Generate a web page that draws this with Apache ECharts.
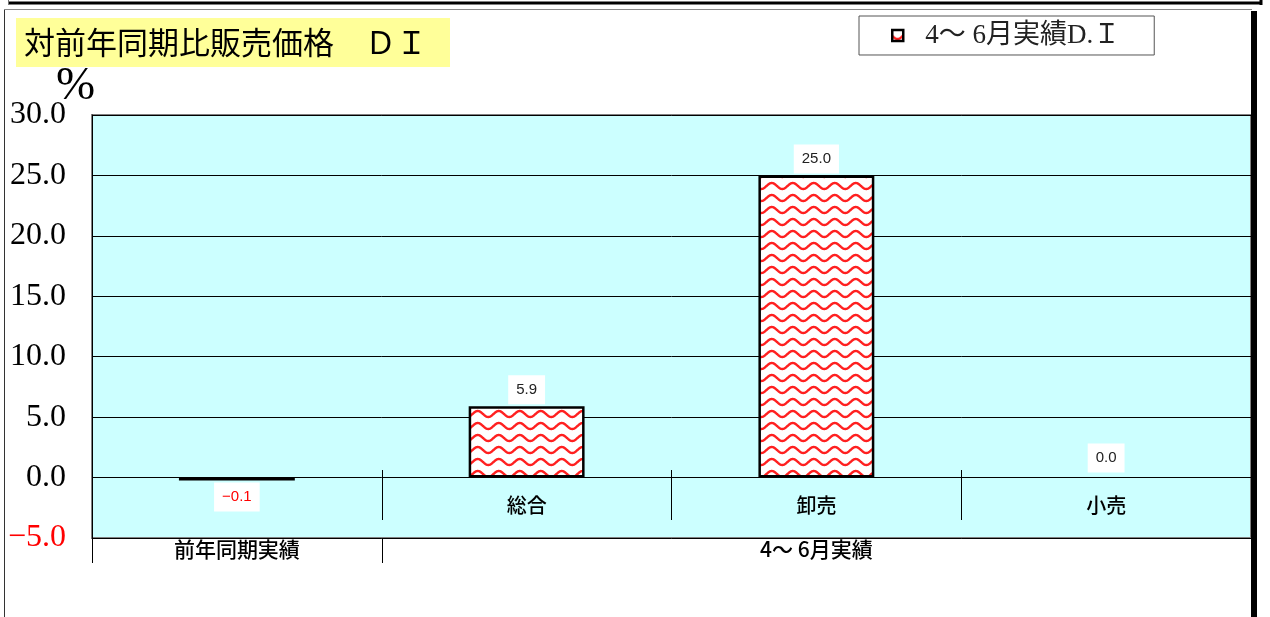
<!DOCTYPE html>
<html>
<head>
<meta charset="utf-8">
<script src="https://cdn.jsdelivr.net/npm/echarts@6/dist/echarts.min.js"></script>
<style>
  html, body { margin: 0; padding: 0; background: #ffffff; }
  #chart { width: 1270px; height: 617px; }
</style>
</head>
<body>
<div id="chart"></div>
<script>
// Chart data
const categories = ['', '総合', '卸売', '小売'];
const groupLabels = ['前年同期実績', '', '4～ 6月実績', ''];
const values = [-0.1, 5.9, 25.0, 0.0];
const seriesName = '4～ 6月実績D.Ｉ';
const titleText = '対前年同期比販売価格　ＤＩ';
const yMin = -5, yMax = 30, yStep = 5;

// Red wavy hatch tile used as the bar fill
function makeWaveTile() {
  const w = 21, h = 12;
  const c = document.createElement('canvas');
  c.width = w; c.height = h;
  const ctx = c.getContext('2d');
  ctx.fillStyle = '#ffffff';
  ctx.fillRect(0, 0, w, h);
  ctx.strokeStyle = '#ff2020';
  ctx.lineWidth = 2.4;
  ctx.beginPath();
  for (let x = -1; x <= w + 1; x += 0.5) {
    const y = 6 + 3.0 * Math.sin((2 * Math.PI * x) / w);
    if (x === -1) ctx.moveTo(x, y); else ctx.lineTo(x, y);
  }
  ctx.stroke();
  return c;
}
const wavePattern = { image: makeWaveTile(), repeat: 'repeat' };

const fmt = v => (v < 0 ? '\u2212' + Math.abs(v).toFixed(1) : v.toFixed(1));

// a zero value leaves no visible bar, only its label
const barData = values.map(v => ({
  value: v,
  itemStyle: v === 0 ? { color: 'rgba(0,0,0,0)', borderWidth: 0 } : undefined,
  label: {
    position: v < 0 ? 'bottom' : 'top',
    color: v < 0 ? '#ff0000' : '#222222'
  }
}));

const chart = echarts.init(document.getElementById('chart'), null, { renderer: 'canvas' });

// category dividers sit between the slots only
const dividerTicks = (idx) => idx >= 1;

chart.setOption({
  animation: false,
  backgroundColor: '#ffffff',
  title: {
    text: titleText,
    left: 16,
    top: 18,
    backgroundColor: '#ffff99',
    padding: [7, 23, 7, 8],
    textStyle: {
      fontFamily: '"Noto Sans CJK JP", sans-serif',
      fontSize: 31,
      fontWeight: 'normal',
      color: '#000000',
      lineHeight: 35
    }
  },
  legend: {
    left: 859,
    top: 16,
    orient: 'horizontal',
    backgroundColor: '#ffffff',
    borderColor: '#555555',
    borderWidth: 1,
    padding: [6, 34, 6, 32],
    itemWidth: 11,
    itemHeight: 11,
    itemStyle: { borderColor: '#000000', borderWidth: 2.5 },
    textStyle: {
      fontFamily: '"Liberation Serif", "Noto Sans CJK JP", serif',
      fontSize: 27,
      color: '#222222',
      padding: [0, 0, 0, 17]
    },
    data: [{ name: seriesName, icon: 'rect' }]
  },
  grid: {
    left: 92,
    top: 115,
    right: 19,
    bottom: 79,
    show: true,
    backgroundColor: '#ccffff',
    borderColor: '#808080',
    borderWidth: 2
  },
  xAxis: [
    {
      // category names, placed just under the zero line
      type: 'category',
      data: categories,
      position: 'bottom',
      offset: -68,
      axisLine: { show: false, onZero: false },
      axisTick: { show: true, length: 50, interval: dividerTicks, lineStyle: { color: '#000000', width: 1 } },
      axisLabel: {
        margin: 25,
        interval: 0,
        fontFamily: '"Noto Sans CJK JP", sans-serif',
        fontSize: 20,
        fontWeight: 500,
        color: '#000000'
      },
      splitLine: { show: false }
    },
    {
      // group names under the plot area
      type: 'category',
      data: groupLabels,
      position: 'bottom',
      axisLine: { show: false, onZero: false },
      axisTick: { show: true, length: 25, interval: (idx) => idx <= 1, lineStyle: { color: '#000000', width: 1 } },
      axisLabel: {
        margin: 1,
        interval: 0,
        fontFamily: '"Noto Sans CJK JP", sans-serif',
        fontSize: 21,
        fontWeight: 500,
        color: '#000000'
      },
      splitLine: { show: false }
    }
  ],
  yAxis: {
    type: 'value',
    min: yMin,
    max: yMax,
    interval: yStep,
    axisLine: { show: true, lineStyle: { color: '#000000', width: 1 } },
    axisTick: { show: false },
    axisLabel: {
      margin: 26,
      fontFamily: '"Liberation Serif", serif',
      fontSize: 32,
      formatter: v => fmt(v),
      color: v => (Number(v) < 0 ? '#ff0000' : '#000000')
    },
    splitLine: { show: true, lineStyle: { color: '#000000', width: 1 } }
  },
  series: [
    {
      name: seriesName,
      type: 'bar',
      xAxisIndex: 0,
      yAxisIndex: 0,
      barWidth: '40%',
      barMinHeight: 3,
      data: barData,
      itemStyle: { color: wavePattern, borderColor: '#000000', borderWidth: 2.5 },
      label: {
        show: true,
        distance: 2,
        formatter: p => fmt(p.value),
        fontFamily: '"Liberation Sans", Arial, sans-serif',
        fontSize: 15,
        backgroundColor: '#ffffff',
        padding: [7, 8, 7, 8]
      },
      z: 3
    }
  ],
  graphic: [
    // unit sign above the value axis
    {
      type: 'text',
      left: 56,
      top: 63,
      style: {
        text: '%',
        font: '47px "Liberation Serif", serif',
        fill: '#000000'
      },
      z: 10
    },
    // outer frame
    { type: 'line', shape: { x1: 8, y1: 3, x2: 1261, y2: 3 }, style: { stroke: '#000000', lineWidth: 3 }, z: 20 },
    { type: 'line', shape: { x1: 8.5, y1: 0, x2: 8.5, y2: 4 }, style: { stroke: '#777777', lineWidth: 1 }, z: 20 },
    { type: 'line', shape: { x1: 1261, y1: 0, x2: 1261, y2: 5 }, style: { stroke: '#000000', lineWidth: 3 }, z: 20 },
    { type: 'line', shape: { x1: 4.5, y1: 9, x2: 4.5, y2: 617 }, style: { stroke: '#333333', lineWidth: 1 }, z: 20 },
    { type: 'line', shape: { x1: 4, y1: 9.5, x2: 1252, y2: 9.5 }, style: { stroke: '#888888', lineWidth: 1 }, z: 20 },
    { type: 'line', shape: { x1: 1254, y1: 11, x2: 1254, y2: 617 }, style: { stroke: '#000000', lineWidth: 6 }, z: 20 }
  ]
});
</script>
</body>
</html>
